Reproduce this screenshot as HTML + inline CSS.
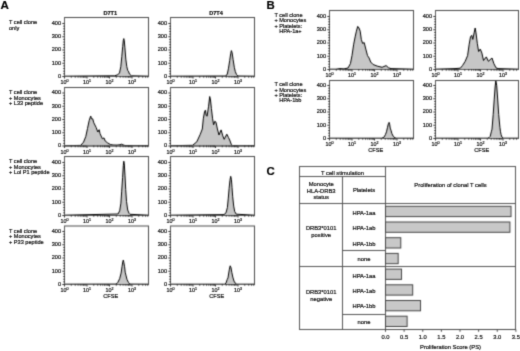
<!DOCTYPE html>
<html><head><meta charset="utf-8"><style>
html,body{margin:0;padding:0;background:#fff;width:520px;height:351px;overflow:hidden}
svg{display:block}
text{stroke:#111;stroke-width:0.2px}
</style></head><body>
<svg width="520" height="351" viewBox="0 0 520 351" font-family='"Liberation Sans", sans-serif' fill="#111" style="will-change:transform">
<defs><filter id="sf" filterUnits="userSpaceOnUse" x="0" y="0" width="520" height="351" color-interpolation-filters="sRGB"><feConvolveMatrix order="3" kernelMatrix="1 4 1 4 16 4 1 4 1" divisor="36" edgeMode="duplicate"/></filter><filter id="tf" filterUnits="userSpaceOnUse" x="0" y="0" width="520" height="351" color-interpolation-filters="sRGB"><feConvolveMatrix order="3" kernelMatrix="1 6 1 6 36 6 1 6 1" divisor="64" edgeMode="none"/></filter></defs>
<g filter="url(#sf)">
<rect width="520" height="351" fill="#fff"/>
<path d="M114.5 76.5L114.5 75.8L117.7 74.8L119.5 72.9L120.8 66.7L121.8 56.6L122.7 46.6L123.3 40.3L123.8 38.6L124.3 40.9L124.9 47.8L125.8 59.1L126.8 66.7L127.7 70.4L128.3 71.1L129.6 74.2L131.5 75.8L131.5 76.5Z" fill="#c6c6c6"/>
<path d="M64.5 76.2L114.5 75.8L117.7 74.8L119.5 72.9L120.8 66.7L121.8 56.6L122.7 46.6L123.3 40.3L123.8 38.6L124.3 40.9L124.9 47.8L125.8 59.1L126.8 66.7L127.7 70.4L128.3 71.1L129.6 74.2L131.5 75.8L148.5 76.2" fill="none" stroke="#000" stroke-width="1.0" stroke-linejoin="round"/>
<rect x="64.50" y="17.50" width="84.00" height="59.00" stroke="#4a4a4a" fill="none" stroke-width="1"/>
<path d="M64.50 17.50L64.50 76.50" stroke="#5a5a5a" stroke-width="1"/>
<path d="M64.50 76.50L148.50 76.50" stroke="#5a5a5a" stroke-width="1"/>
<path d="M62.30 76.50L64.50 76.50" stroke="#333" stroke-width="1"/>
<path d="M62.30 63.25L64.50 63.25" stroke="#333" stroke-width="1"/>
<path d="M62.30 50.00L64.50 50.00" stroke="#333" stroke-width="1"/>
<path d="M62.30 36.75L64.50 36.75" stroke="#333" stroke-width="1"/>
<path d="M62.30 23.50L64.50 23.50" stroke="#333" stroke-width="1"/>
<path d="M63.20 73.85L65.00 73.85" stroke="#222" stroke-width="0.9"/>
<path d="M63.20 71.20L65.00 71.20" stroke="#222" stroke-width="0.9"/>
<path d="M63.20 68.55L65.00 68.55" stroke="#222" stroke-width="0.9"/>
<path d="M63.20 65.90L65.00 65.90" stroke="#222" stroke-width="0.9"/>
<path d="M63.20 60.60L65.00 60.60" stroke="#222" stroke-width="0.9"/>
<path d="M63.20 57.95L65.00 57.95" stroke="#222" stroke-width="0.9"/>
<path d="M63.20 55.30L65.00 55.30" stroke="#222" stroke-width="0.9"/>
<path d="M63.20 52.65L65.00 52.65" stroke="#222" stroke-width="0.9"/>
<path d="M63.20 47.35L65.00 47.35" stroke="#222" stroke-width="0.9"/>
<path d="M63.20 44.70L65.00 44.70" stroke="#222" stroke-width="0.9"/>
<path d="M63.20 42.05L65.00 42.05" stroke="#222" stroke-width="0.9"/>
<path d="M63.20 39.40L65.00 39.40" stroke="#222" stroke-width="0.9"/>
<path d="M63.20 34.10L65.00 34.10" stroke="#222" stroke-width="0.9"/>
<path d="M63.20 31.45L65.00 31.45" stroke="#222" stroke-width="0.9"/>
<path d="M63.20 28.80L65.00 28.80" stroke="#222" stroke-width="0.9"/>
<path d="M63.20 26.15L65.00 26.15" stroke="#222" stroke-width="0.9"/>
<path d="M64.50 76.50L64.50 78.50" stroke="#333" stroke-width="1"/>
<path d="M71.27 76.00L71.27 77.80" stroke="#222" stroke-width="0.8"/>
<path d="M75.24 76.00L75.24 77.80" stroke="#222" stroke-width="0.8"/>
<path d="M78.05 76.00L78.05 77.80" stroke="#222" stroke-width="0.8"/>
<path d="M80.23 76.00L80.23 77.80" stroke="#222" stroke-width="0.8"/>
<path d="M82.01 76.00L82.01 77.80" stroke="#222" stroke-width="0.8"/>
<path d="M83.51 76.00L83.51 77.80" stroke="#222" stroke-width="0.8"/>
<path d="M84.82 76.00L84.82 77.80" stroke="#222" stroke-width="0.8"/>
<path d="M85.97 76.00L85.97 77.80" stroke="#222" stroke-width="0.8"/>
<path d="M87.00 76.50L87.00 78.50" stroke="#333" stroke-width="1"/>
<path d="M93.77 76.00L93.77 77.80" stroke="#222" stroke-width="0.8"/>
<path d="M97.74 76.00L97.74 77.80" stroke="#222" stroke-width="0.8"/>
<path d="M100.55 76.00L100.55 77.80" stroke="#222" stroke-width="0.8"/>
<path d="M102.73 76.00L102.73 77.80" stroke="#222" stroke-width="0.8"/>
<path d="M104.51 76.00L104.51 77.80" stroke="#222" stroke-width="0.8"/>
<path d="M106.01 76.00L106.01 77.80" stroke="#222" stroke-width="0.8"/>
<path d="M107.32 76.00L107.32 77.80" stroke="#222" stroke-width="0.8"/>
<path d="M108.47 76.00L108.47 77.80" stroke="#222" stroke-width="0.8"/>
<path d="M109.50 76.50L109.50 78.50" stroke="#333" stroke-width="1"/>
<path d="M116.27 76.00L116.27 77.80" stroke="#222" stroke-width="0.8"/>
<path d="M120.24 76.00L120.24 77.80" stroke="#222" stroke-width="0.8"/>
<path d="M123.05 76.00L123.05 77.80" stroke="#222" stroke-width="0.8"/>
<path d="M125.23 76.00L125.23 77.80" stroke="#222" stroke-width="0.8"/>
<path d="M127.01 76.00L127.01 77.80" stroke="#222" stroke-width="0.8"/>
<path d="M128.51 76.00L128.51 77.80" stroke="#222" stroke-width="0.8"/>
<path d="M129.82 76.00L129.82 77.80" stroke="#222" stroke-width="0.8"/>
<path d="M130.97 76.00L130.97 77.80" stroke="#222" stroke-width="0.8"/>
<path d="M132.00 76.50L132.00 78.50" stroke="#333" stroke-width="1"/>
<path d="M138.77 76.00L138.77 77.80" stroke="#222" stroke-width="0.8"/>
<path d="M142.74 76.00L142.74 77.80" stroke="#222" stroke-width="0.8"/>
<path d="M145.55 76.00L145.55 77.80" stroke="#222" stroke-width="0.8"/>
<path d="M147.73 76.00L147.73 77.80" stroke="#222" stroke-width="0.8"/>
<path d="M225.8 76.5L225.8 76.0L227.3 74.0L228.5 68.2L229.7 60.5L230.7 53.7L231.4 50.6L232.1 52.7L233.1 59.5L234.3 67.3L235.3 71.6L236.5 74.5L237.9 76.0L237.9 76.5Z" fill="#c6c6c6"/>
<path d="M170.5 76.2L225.8 76.0L227.3 74.0L228.5 68.2L229.7 60.5L230.7 53.7L231.4 50.6L232.1 52.7L233.1 59.5L234.3 67.3L235.3 71.6L236.5 74.5L237.9 76.0L254.5 76.2" fill="none" stroke="#000" stroke-width="1.0" stroke-linejoin="round"/>
<rect x="170.50" y="17.50" width="84.00" height="59.00" stroke="#4a4a4a" fill="none" stroke-width="1"/>
<path d="M170.50 17.50L170.50 76.50" stroke="#5a5a5a" stroke-width="1"/>
<path d="M170.50 76.50L254.50 76.50" stroke="#5a5a5a" stroke-width="1"/>
<path d="M168.30 76.50L170.50 76.50" stroke="#333" stroke-width="1"/>
<path d="M168.30 63.25L170.50 63.25" stroke="#333" stroke-width="1"/>
<path d="M168.30 50.00L170.50 50.00" stroke="#333" stroke-width="1"/>
<path d="M168.30 36.75L170.50 36.75" stroke="#333" stroke-width="1"/>
<path d="M168.30 23.50L170.50 23.50" stroke="#333" stroke-width="1"/>
<path d="M169.20 73.85L171.00 73.85" stroke="#222" stroke-width="0.9"/>
<path d="M169.20 71.20L171.00 71.20" stroke="#222" stroke-width="0.9"/>
<path d="M169.20 68.55L171.00 68.55" stroke="#222" stroke-width="0.9"/>
<path d="M169.20 65.90L171.00 65.90" stroke="#222" stroke-width="0.9"/>
<path d="M169.20 60.60L171.00 60.60" stroke="#222" stroke-width="0.9"/>
<path d="M169.20 57.95L171.00 57.95" stroke="#222" stroke-width="0.9"/>
<path d="M169.20 55.30L171.00 55.30" stroke="#222" stroke-width="0.9"/>
<path d="M169.20 52.65L171.00 52.65" stroke="#222" stroke-width="0.9"/>
<path d="M169.20 47.35L171.00 47.35" stroke="#222" stroke-width="0.9"/>
<path d="M169.20 44.70L171.00 44.70" stroke="#222" stroke-width="0.9"/>
<path d="M169.20 42.05L171.00 42.05" stroke="#222" stroke-width="0.9"/>
<path d="M169.20 39.40L171.00 39.40" stroke="#222" stroke-width="0.9"/>
<path d="M169.20 34.10L171.00 34.10" stroke="#222" stroke-width="0.9"/>
<path d="M169.20 31.45L171.00 31.45" stroke="#222" stroke-width="0.9"/>
<path d="M169.20 28.80L171.00 28.80" stroke="#222" stroke-width="0.9"/>
<path d="M169.20 26.15L171.00 26.15" stroke="#222" stroke-width="0.9"/>
<path d="M170.50 76.50L170.50 78.50" stroke="#333" stroke-width="1"/>
<path d="M177.27 76.00L177.27 77.80" stroke="#222" stroke-width="0.8"/>
<path d="M181.24 76.00L181.24 77.80" stroke="#222" stroke-width="0.8"/>
<path d="M184.05 76.00L184.05 77.80" stroke="#222" stroke-width="0.8"/>
<path d="M186.23 76.00L186.23 77.80" stroke="#222" stroke-width="0.8"/>
<path d="M188.01 76.00L188.01 77.80" stroke="#222" stroke-width="0.8"/>
<path d="M189.51 76.00L189.51 77.80" stroke="#222" stroke-width="0.8"/>
<path d="M190.82 76.00L190.82 77.80" stroke="#222" stroke-width="0.8"/>
<path d="M191.97 76.00L191.97 77.80" stroke="#222" stroke-width="0.8"/>
<path d="M193.00 76.50L193.00 78.50" stroke="#333" stroke-width="1"/>
<path d="M199.77 76.00L199.77 77.80" stroke="#222" stroke-width="0.8"/>
<path d="M203.74 76.00L203.74 77.80" stroke="#222" stroke-width="0.8"/>
<path d="M206.55 76.00L206.55 77.80" stroke="#222" stroke-width="0.8"/>
<path d="M208.73 76.00L208.73 77.80" stroke="#222" stroke-width="0.8"/>
<path d="M210.51 76.00L210.51 77.80" stroke="#222" stroke-width="0.8"/>
<path d="M212.01 76.00L212.01 77.80" stroke="#222" stroke-width="0.8"/>
<path d="M213.32 76.00L213.32 77.80" stroke="#222" stroke-width="0.8"/>
<path d="M214.47 76.00L214.47 77.80" stroke="#222" stroke-width="0.8"/>
<path d="M215.50 76.50L215.50 78.50" stroke="#333" stroke-width="1"/>
<path d="M222.27 76.00L222.27 77.80" stroke="#222" stroke-width="0.8"/>
<path d="M226.24 76.00L226.24 77.80" stroke="#222" stroke-width="0.8"/>
<path d="M229.05 76.00L229.05 77.80" stroke="#222" stroke-width="0.8"/>
<path d="M231.23 76.00L231.23 77.80" stroke="#222" stroke-width="0.8"/>
<path d="M233.01 76.00L233.01 77.80" stroke="#222" stroke-width="0.8"/>
<path d="M234.51 76.00L234.51 77.80" stroke="#222" stroke-width="0.8"/>
<path d="M235.82 76.00L235.82 77.80" stroke="#222" stroke-width="0.8"/>
<path d="M236.97 76.00L236.97 77.80" stroke="#222" stroke-width="0.8"/>
<path d="M238.00 76.50L238.00 78.50" stroke="#333" stroke-width="1"/>
<path d="M244.77 76.00L244.77 77.80" stroke="#222" stroke-width="0.8"/>
<path d="M248.74 76.00L248.74 77.80" stroke="#222" stroke-width="0.8"/>
<path d="M251.55 76.00L251.55 77.80" stroke="#222" stroke-width="0.8"/>
<path d="M253.73 76.00L253.73 77.80" stroke="#222" stroke-width="0.8"/>
<path d="M80.7 146.0L80.7 145.4L83.5 142.2L85.8 136.5L87.5 128.5L89.2 120.5L90.7 116.0L91.5 118.8L92.7 118.8L93.8 122.8L96.1 127.4L97.8 132.0L99.2 129.7L100.0 133.6L102.4 138.8L104.0 137.9L105.2 141.0L107.5 142.8L110.3 144.5L113.0 145.0L117.0 145.1L120.0 144.8L121.5 144.2L123.0 144.9L125.0 145.5L125.0 146.0Z" fill="#c6c6c6"/>
<path d="M64.5 145.7L80.7 145.4L83.5 142.2L85.8 136.5L87.5 128.5L89.2 120.5L90.7 116.0L91.5 118.8L92.7 118.8L93.8 122.8L96.1 127.4L97.8 132.0L99.2 129.7L100.0 133.6L102.4 138.8L104.0 137.9L105.2 141.0L107.5 142.8L110.3 144.5L113.0 145.0L117.0 145.1L120.0 144.8L121.5 144.2L123.0 144.9L125.0 145.5L148.5 145.7" fill="none" stroke="#000" stroke-width="1.0" stroke-linejoin="round"/>
<rect x="64.50" y="87.50" width="84.00" height="58.50" stroke="#4a4a4a" fill="none" stroke-width="1"/>
<path d="M64.50 87.50L64.50 146.00" stroke="#5a5a5a" stroke-width="1"/>
<path d="M64.50 146.00L148.50 146.00" stroke="#5a5a5a" stroke-width="1"/>
<path d="M62.30 146.00L64.50 146.00" stroke="#333" stroke-width="1"/>
<path d="M62.30 132.75L64.50 132.75" stroke="#333" stroke-width="1"/>
<path d="M62.30 119.50L64.50 119.50" stroke="#333" stroke-width="1"/>
<path d="M62.30 106.25L64.50 106.25" stroke="#333" stroke-width="1"/>
<path d="M62.30 93.00L64.50 93.00" stroke="#333" stroke-width="1"/>
<path d="M63.20 143.35L65.00 143.35" stroke="#222" stroke-width="0.9"/>
<path d="M63.20 140.70L65.00 140.70" stroke="#222" stroke-width="0.9"/>
<path d="M63.20 138.05L65.00 138.05" stroke="#222" stroke-width="0.9"/>
<path d="M63.20 135.40L65.00 135.40" stroke="#222" stroke-width="0.9"/>
<path d="M63.20 130.10L65.00 130.10" stroke="#222" stroke-width="0.9"/>
<path d="M63.20 127.45L65.00 127.45" stroke="#222" stroke-width="0.9"/>
<path d="M63.20 124.80L65.00 124.80" stroke="#222" stroke-width="0.9"/>
<path d="M63.20 122.15L65.00 122.15" stroke="#222" stroke-width="0.9"/>
<path d="M63.20 116.85L65.00 116.85" stroke="#222" stroke-width="0.9"/>
<path d="M63.20 114.20L65.00 114.20" stroke="#222" stroke-width="0.9"/>
<path d="M63.20 111.55L65.00 111.55" stroke="#222" stroke-width="0.9"/>
<path d="M63.20 108.90L65.00 108.90" stroke="#222" stroke-width="0.9"/>
<path d="M63.20 103.60L65.00 103.60" stroke="#222" stroke-width="0.9"/>
<path d="M63.20 100.95L65.00 100.95" stroke="#222" stroke-width="0.9"/>
<path d="M63.20 98.30L65.00 98.30" stroke="#222" stroke-width="0.9"/>
<path d="M63.20 95.65L65.00 95.65" stroke="#222" stroke-width="0.9"/>
<path d="M64.50 146.00L64.50 148.00" stroke="#333" stroke-width="1"/>
<path d="M71.27 145.50L71.27 147.30" stroke="#222" stroke-width="0.8"/>
<path d="M75.24 145.50L75.24 147.30" stroke="#222" stroke-width="0.8"/>
<path d="M78.05 145.50L78.05 147.30" stroke="#222" stroke-width="0.8"/>
<path d="M80.23 145.50L80.23 147.30" stroke="#222" stroke-width="0.8"/>
<path d="M82.01 145.50L82.01 147.30" stroke="#222" stroke-width="0.8"/>
<path d="M83.51 145.50L83.51 147.30" stroke="#222" stroke-width="0.8"/>
<path d="M84.82 145.50L84.82 147.30" stroke="#222" stroke-width="0.8"/>
<path d="M85.97 145.50L85.97 147.30" stroke="#222" stroke-width="0.8"/>
<path d="M87.00 146.00L87.00 148.00" stroke="#333" stroke-width="1"/>
<path d="M93.77 145.50L93.77 147.30" stroke="#222" stroke-width="0.8"/>
<path d="M97.74 145.50L97.74 147.30" stroke="#222" stroke-width="0.8"/>
<path d="M100.55 145.50L100.55 147.30" stroke="#222" stroke-width="0.8"/>
<path d="M102.73 145.50L102.73 147.30" stroke="#222" stroke-width="0.8"/>
<path d="M104.51 145.50L104.51 147.30" stroke="#222" stroke-width="0.8"/>
<path d="M106.01 145.50L106.01 147.30" stroke="#222" stroke-width="0.8"/>
<path d="M107.32 145.50L107.32 147.30" stroke="#222" stroke-width="0.8"/>
<path d="M108.47 145.50L108.47 147.30" stroke="#222" stroke-width="0.8"/>
<path d="M109.50 146.00L109.50 148.00" stroke="#333" stroke-width="1"/>
<path d="M116.27 145.50L116.27 147.30" stroke="#222" stroke-width="0.8"/>
<path d="M120.24 145.50L120.24 147.30" stroke="#222" stroke-width="0.8"/>
<path d="M123.05 145.50L123.05 147.30" stroke="#222" stroke-width="0.8"/>
<path d="M125.23 145.50L125.23 147.30" stroke="#222" stroke-width="0.8"/>
<path d="M127.01 145.50L127.01 147.30" stroke="#222" stroke-width="0.8"/>
<path d="M128.51 145.50L128.51 147.30" stroke="#222" stroke-width="0.8"/>
<path d="M129.82 145.50L129.82 147.30" stroke="#222" stroke-width="0.8"/>
<path d="M130.97 145.50L130.97 147.30" stroke="#222" stroke-width="0.8"/>
<path d="M132.00 146.00L132.00 148.00" stroke="#333" stroke-width="1"/>
<path d="M138.77 145.50L138.77 147.30" stroke="#222" stroke-width="0.8"/>
<path d="M142.74 145.50L142.74 147.30" stroke="#222" stroke-width="0.8"/>
<path d="M145.55 145.50L145.55 147.30" stroke="#222" stroke-width="0.8"/>
<path d="M147.73 145.50L147.73 147.30" stroke="#222" stroke-width="0.8"/>
<path d="M192.6 146.0L192.6 145.3L196.8 141.8L200.3 134.2L202.3 129.0L203.3 118.8L204.5 111.9L205.4 110.2L206.2 115.4L207.1 116.2L208.5 106.8L209.7 96.5L210.5 100.0L211.4 108.5L212.6 118.8L213.6 124.8L214.8 121.3L216.0 122.2L217.4 129.0L219.0 135.0L221.1 129.9L222.8 135.9L224.2 139.3L226.8 134.2L228.5 137.6L229.7 140.0L231.4 144.7L232.5 146.0L232.5 146.0Z" fill="#c6c6c6"/>
<path d="M170.5 145.7L192.6 145.3L196.8 141.8L200.3 134.2L202.3 129.0L203.3 118.8L204.5 111.9L205.4 110.2L206.2 115.4L207.1 116.2L208.5 106.8L209.7 96.5L210.5 100.0L211.4 108.5L212.6 118.8L213.6 124.8L214.8 121.3L216.0 122.2L217.4 129.0L219.0 135.0L221.1 129.9L222.8 135.9L224.2 139.3L226.8 134.2L228.5 137.6L229.7 140.0L231.4 144.7L232.5 145.7L254.5 145.7" fill="none" stroke="#000" stroke-width="1.0" stroke-linejoin="round"/>
<rect x="170.50" y="87.50" width="84.00" height="58.50" stroke="#4a4a4a" fill="none" stroke-width="1"/>
<path d="M170.50 87.50L170.50 146.00" stroke="#5a5a5a" stroke-width="1"/>
<path d="M170.50 146.00L254.50 146.00" stroke="#5a5a5a" stroke-width="1"/>
<path d="M168.30 146.00L170.50 146.00" stroke="#333" stroke-width="1"/>
<path d="M168.30 132.75L170.50 132.75" stroke="#333" stroke-width="1"/>
<path d="M168.30 119.50L170.50 119.50" stroke="#333" stroke-width="1"/>
<path d="M168.30 106.25L170.50 106.25" stroke="#333" stroke-width="1"/>
<path d="M168.30 93.00L170.50 93.00" stroke="#333" stroke-width="1"/>
<path d="M169.20 143.35L171.00 143.35" stroke="#222" stroke-width="0.9"/>
<path d="M169.20 140.70L171.00 140.70" stroke="#222" stroke-width="0.9"/>
<path d="M169.20 138.05L171.00 138.05" stroke="#222" stroke-width="0.9"/>
<path d="M169.20 135.40L171.00 135.40" stroke="#222" stroke-width="0.9"/>
<path d="M169.20 130.10L171.00 130.10" stroke="#222" stroke-width="0.9"/>
<path d="M169.20 127.45L171.00 127.45" stroke="#222" stroke-width="0.9"/>
<path d="M169.20 124.80L171.00 124.80" stroke="#222" stroke-width="0.9"/>
<path d="M169.20 122.15L171.00 122.15" stroke="#222" stroke-width="0.9"/>
<path d="M169.20 116.85L171.00 116.85" stroke="#222" stroke-width="0.9"/>
<path d="M169.20 114.20L171.00 114.20" stroke="#222" stroke-width="0.9"/>
<path d="M169.20 111.55L171.00 111.55" stroke="#222" stroke-width="0.9"/>
<path d="M169.20 108.90L171.00 108.90" stroke="#222" stroke-width="0.9"/>
<path d="M169.20 103.60L171.00 103.60" stroke="#222" stroke-width="0.9"/>
<path d="M169.20 100.95L171.00 100.95" stroke="#222" stroke-width="0.9"/>
<path d="M169.20 98.30L171.00 98.30" stroke="#222" stroke-width="0.9"/>
<path d="M169.20 95.65L171.00 95.65" stroke="#222" stroke-width="0.9"/>
<path d="M170.50 146.00L170.50 148.00" stroke="#333" stroke-width="1"/>
<path d="M177.27 145.50L177.27 147.30" stroke="#222" stroke-width="0.8"/>
<path d="M181.24 145.50L181.24 147.30" stroke="#222" stroke-width="0.8"/>
<path d="M184.05 145.50L184.05 147.30" stroke="#222" stroke-width="0.8"/>
<path d="M186.23 145.50L186.23 147.30" stroke="#222" stroke-width="0.8"/>
<path d="M188.01 145.50L188.01 147.30" stroke="#222" stroke-width="0.8"/>
<path d="M189.51 145.50L189.51 147.30" stroke="#222" stroke-width="0.8"/>
<path d="M190.82 145.50L190.82 147.30" stroke="#222" stroke-width="0.8"/>
<path d="M191.97 145.50L191.97 147.30" stroke="#222" stroke-width="0.8"/>
<path d="M193.00 146.00L193.00 148.00" stroke="#333" stroke-width="1"/>
<path d="M199.77 145.50L199.77 147.30" stroke="#222" stroke-width="0.8"/>
<path d="M203.74 145.50L203.74 147.30" stroke="#222" stroke-width="0.8"/>
<path d="M206.55 145.50L206.55 147.30" stroke="#222" stroke-width="0.8"/>
<path d="M208.73 145.50L208.73 147.30" stroke="#222" stroke-width="0.8"/>
<path d="M210.51 145.50L210.51 147.30" stroke="#222" stroke-width="0.8"/>
<path d="M212.01 145.50L212.01 147.30" stroke="#222" stroke-width="0.8"/>
<path d="M213.32 145.50L213.32 147.30" stroke="#222" stroke-width="0.8"/>
<path d="M214.47 145.50L214.47 147.30" stroke="#222" stroke-width="0.8"/>
<path d="M215.50 146.00L215.50 148.00" stroke="#333" stroke-width="1"/>
<path d="M222.27 145.50L222.27 147.30" stroke="#222" stroke-width="0.8"/>
<path d="M226.24 145.50L226.24 147.30" stroke="#222" stroke-width="0.8"/>
<path d="M229.05 145.50L229.05 147.30" stroke="#222" stroke-width="0.8"/>
<path d="M231.23 145.50L231.23 147.30" stroke="#222" stroke-width="0.8"/>
<path d="M233.01 145.50L233.01 147.30" stroke="#222" stroke-width="0.8"/>
<path d="M234.51 145.50L234.51 147.30" stroke="#222" stroke-width="0.8"/>
<path d="M235.82 145.50L235.82 147.30" stroke="#222" stroke-width="0.8"/>
<path d="M236.97 145.50L236.97 147.30" stroke="#222" stroke-width="0.8"/>
<path d="M238.00 146.00L238.00 148.00" stroke="#333" stroke-width="1"/>
<path d="M244.77 145.50L244.77 147.30" stroke="#222" stroke-width="0.8"/>
<path d="M248.74 145.50L248.74 147.30" stroke="#222" stroke-width="0.8"/>
<path d="M251.55 145.50L251.55 147.30" stroke="#222" stroke-width="0.8"/>
<path d="M253.73 145.50L253.73 147.30" stroke="#222" stroke-width="0.8"/>
<path d="M118.0 215.5L118.0 214.0L119.7 210.8L120.9 203.2L121.7 191.2L122.6 177.5L123.3 165.5L123.8 161.2L124.3 163.8L125.0 175.8L125.7 189.5L126.5 201.4L127.7 210.0L129.1 213.4L130.0 214.3L130.0 215.5Z" fill="#c6c6c6"/>
<path d="M64.5 215.2L118.0 214.0L119.7 210.8L120.9 203.2L121.7 191.2L122.6 177.5L123.3 165.5L123.8 161.2L124.3 163.8L125.0 175.8L125.7 189.5L126.5 201.4L127.7 210.0L129.1 213.4L130.0 214.3L148.5 215.2" fill="none" stroke="#000" stroke-width="1.0" stroke-linejoin="round"/>
<rect x="64.50" y="156.50" width="84.00" height="59.00" stroke="#4a4a4a" fill="none" stroke-width="1"/>
<path d="M64.50 156.50L64.50 215.50" stroke="#5a5a5a" stroke-width="1"/>
<path d="M64.50 215.50L148.50 215.50" stroke="#5a5a5a" stroke-width="1"/>
<path d="M62.30 215.50L64.50 215.50" stroke="#333" stroke-width="1"/>
<path d="M62.30 202.25L64.50 202.25" stroke="#333" stroke-width="1"/>
<path d="M62.30 189.00L64.50 189.00" stroke="#333" stroke-width="1"/>
<path d="M62.30 175.75L64.50 175.75" stroke="#333" stroke-width="1"/>
<path d="M62.30 162.50L64.50 162.50" stroke="#333" stroke-width="1"/>
<path d="M63.20 212.85L65.00 212.85" stroke="#222" stroke-width="0.9"/>
<path d="M63.20 210.20L65.00 210.20" stroke="#222" stroke-width="0.9"/>
<path d="M63.20 207.55L65.00 207.55" stroke="#222" stroke-width="0.9"/>
<path d="M63.20 204.90L65.00 204.90" stroke="#222" stroke-width="0.9"/>
<path d="M63.20 199.60L65.00 199.60" stroke="#222" stroke-width="0.9"/>
<path d="M63.20 196.95L65.00 196.95" stroke="#222" stroke-width="0.9"/>
<path d="M63.20 194.30L65.00 194.30" stroke="#222" stroke-width="0.9"/>
<path d="M63.20 191.65L65.00 191.65" stroke="#222" stroke-width="0.9"/>
<path d="M63.20 186.35L65.00 186.35" stroke="#222" stroke-width="0.9"/>
<path d="M63.20 183.70L65.00 183.70" stroke="#222" stroke-width="0.9"/>
<path d="M63.20 181.05L65.00 181.05" stroke="#222" stroke-width="0.9"/>
<path d="M63.20 178.40L65.00 178.40" stroke="#222" stroke-width="0.9"/>
<path d="M63.20 173.10L65.00 173.10" stroke="#222" stroke-width="0.9"/>
<path d="M63.20 170.45L65.00 170.45" stroke="#222" stroke-width="0.9"/>
<path d="M63.20 167.80L65.00 167.80" stroke="#222" stroke-width="0.9"/>
<path d="M63.20 165.15L65.00 165.15" stroke="#222" stroke-width="0.9"/>
<path d="M64.50 215.50L64.50 217.50" stroke="#333" stroke-width="1"/>
<path d="M71.27 215.00L71.27 216.80" stroke="#222" stroke-width="0.8"/>
<path d="M75.24 215.00L75.24 216.80" stroke="#222" stroke-width="0.8"/>
<path d="M78.05 215.00L78.05 216.80" stroke="#222" stroke-width="0.8"/>
<path d="M80.23 215.00L80.23 216.80" stroke="#222" stroke-width="0.8"/>
<path d="M82.01 215.00L82.01 216.80" stroke="#222" stroke-width="0.8"/>
<path d="M83.51 215.00L83.51 216.80" stroke="#222" stroke-width="0.8"/>
<path d="M84.82 215.00L84.82 216.80" stroke="#222" stroke-width="0.8"/>
<path d="M85.97 215.00L85.97 216.80" stroke="#222" stroke-width="0.8"/>
<path d="M87.00 215.50L87.00 217.50" stroke="#333" stroke-width="1"/>
<path d="M93.77 215.00L93.77 216.80" stroke="#222" stroke-width="0.8"/>
<path d="M97.74 215.00L97.74 216.80" stroke="#222" stroke-width="0.8"/>
<path d="M100.55 215.00L100.55 216.80" stroke="#222" stroke-width="0.8"/>
<path d="M102.73 215.00L102.73 216.80" stroke="#222" stroke-width="0.8"/>
<path d="M104.51 215.00L104.51 216.80" stroke="#222" stroke-width="0.8"/>
<path d="M106.01 215.00L106.01 216.80" stroke="#222" stroke-width="0.8"/>
<path d="M107.32 215.00L107.32 216.80" stroke="#222" stroke-width="0.8"/>
<path d="M108.47 215.00L108.47 216.80" stroke="#222" stroke-width="0.8"/>
<path d="M109.50 215.50L109.50 217.50" stroke="#333" stroke-width="1"/>
<path d="M116.27 215.00L116.27 216.80" stroke="#222" stroke-width="0.8"/>
<path d="M120.24 215.00L120.24 216.80" stroke="#222" stroke-width="0.8"/>
<path d="M123.05 215.00L123.05 216.80" stroke="#222" stroke-width="0.8"/>
<path d="M125.23 215.00L125.23 216.80" stroke="#222" stroke-width="0.8"/>
<path d="M127.01 215.00L127.01 216.80" stroke="#222" stroke-width="0.8"/>
<path d="M128.51 215.00L128.51 216.80" stroke="#222" stroke-width="0.8"/>
<path d="M129.82 215.00L129.82 216.80" stroke="#222" stroke-width="0.8"/>
<path d="M130.97 215.00L130.97 216.80" stroke="#222" stroke-width="0.8"/>
<path d="M132.00 215.50L132.00 217.50" stroke="#333" stroke-width="1"/>
<path d="M138.77 215.00L138.77 216.80" stroke="#222" stroke-width="0.8"/>
<path d="M142.74 215.00L142.74 216.80" stroke="#222" stroke-width="0.8"/>
<path d="M145.55 215.00L145.55 216.80" stroke="#222" stroke-width="0.8"/>
<path d="M147.73 215.00L147.73 216.80" stroke="#222" stroke-width="0.8"/>
<path d="M224.0 215.5L224.0 214.6L226.0 212.8L227.4 207.5L228.3 198.1L229.1 188.7L229.9 180.7L230.7 176.3L231.4 179.4L232.0 187.4L232.7 196.8L233.7 206.1L234.7 211.5L236.3 214.2L236.3 215.5Z" fill="#c6c6c6"/>
<path d="M170.5 215.2L224.0 214.6L226.0 212.8L227.4 207.5L228.3 198.1L229.1 188.7L229.9 180.7L230.7 176.3L231.4 179.4L232.0 187.4L232.7 196.8L233.7 206.1L234.7 211.5L236.3 214.2L254.5 215.2" fill="none" stroke="#000" stroke-width="1.0" stroke-linejoin="round"/>
<rect x="170.50" y="156.50" width="84.00" height="59.00" stroke="#4a4a4a" fill="none" stroke-width="1"/>
<path d="M170.50 156.50L170.50 215.50" stroke="#5a5a5a" stroke-width="1"/>
<path d="M170.50 215.50L254.50 215.50" stroke="#5a5a5a" stroke-width="1"/>
<path d="M168.30 215.50L170.50 215.50" stroke="#333" stroke-width="1"/>
<path d="M168.30 202.25L170.50 202.25" stroke="#333" stroke-width="1"/>
<path d="M168.30 189.00L170.50 189.00" stroke="#333" stroke-width="1"/>
<path d="M168.30 175.75L170.50 175.75" stroke="#333" stroke-width="1"/>
<path d="M168.30 162.50L170.50 162.50" stroke="#333" stroke-width="1"/>
<path d="M169.20 212.85L171.00 212.85" stroke="#222" stroke-width="0.9"/>
<path d="M169.20 210.20L171.00 210.20" stroke="#222" stroke-width="0.9"/>
<path d="M169.20 207.55L171.00 207.55" stroke="#222" stroke-width="0.9"/>
<path d="M169.20 204.90L171.00 204.90" stroke="#222" stroke-width="0.9"/>
<path d="M169.20 199.60L171.00 199.60" stroke="#222" stroke-width="0.9"/>
<path d="M169.20 196.95L171.00 196.95" stroke="#222" stroke-width="0.9"/>
<path d="M169.20 194.30L171.00 194.30" stroke="#222" stroke-width="0.9"/>
<path d="M169.20 191.65L171.00 191.65" stroke="#222" stroke-width="0.9"/>
<path d="M169.20 186.35L171.00 186.35" stroke="#222" stroke-width="0.9"/>
<path d="M169.20 183.70L171.00 183.70" stroke="#222" stroke-width="0.9"/>
<path d="M169.20 181.05L171.00 181.05" stroke="#222" stroke-width="0.9"/>
<path d="M169.20 178.40L171.00 178.40" stroke="#222" stroke-width="0.9"/>
<path d="M169.20 173.10L171.00 173.10" stroke="#222" stroke-width="0.9"/>
<path d="M169.20 170.45L171.00 170.45" stroke="#222" stroke-width="0.9"/>
<path d="M169.20 167.80L171.00 167.80" stroke="#222" stroke-width="0.9"/>
<path d="M169.20 165.15L171.00 165.15" stroke="#222" stroke-width="0.9"/>
<path d="M170.50 215.50L170.50 217.50" stroke="#333" stroke-width="1"/>
<path d="M177.27 215.00L177.27 216.80" stroke="#222" stroke-width="0.8"/>
<path d="M181.24 215.00L181.24 216.80" stroke="#222" stroke-width="0.8"/>
<path d="M184.05 215.00L184.05 216.80" stroke="#222" stroke-width="0.8"/>
<path d="M186.23 215.00L186.23 216.80" stroke="#222" stroke-width="0.8"/>
<path d="M188.01 215.00L188.01 216.80" stroke="#222" stroke-width="0.8"/>
<path d="M189.51 215.00L189.51 216.80" stroke="#222" stroke-width="0.8"/>
<path d="M190.82 215.00L190.82 216.80" stroke="#222" stroke-width="0.8"/>
<path d="M191.97 215.00L191.97 216.80" stroke="#222" stroke-width="0.8"/>
<path d="M193.00 215.50L193.00 217.50" stroke="#333" stroke-width="1"/>
<path d="M199.77 215.00L199.77 216.80" stroke="#222" stroke-width="0.8"/>
<path d="M203.74 215.00L203.74 216.80" stroke="#222" stroke-width="0.8"/>
<path d="M206.55 215.00L206.55 216.80" stroke="#222" stroke-width="0.8"/>
<path d="M208.73 215.00L208.73 216.80" stroke="#222" stroke-width="0.8"/>
<path d="M210.51 215.00L210.51 216.80" stroke="#222" stroke-width="0.8"/>
<path d="M212.01 215.00L212.01 216.80" stroke="#222" stroke-width="0.8"/>
<path d="M213.32 215.00L213.32 216.80" stroke="#222" stroke-width="0.8"/>
<path d="M214.47 215.00L214.47 216.80" stroke="#222" stroke-width="0.8"/>
<path d="M215.50 215.50L215.50 217.50" stroke="#333" stroke-width="1"/>
<path d="M222.27 215.00L222.27 216.80" stroke="#222" stroke-width="0.8"/>
<path d="M226.24 215.00L226.24 216.80" stroke="#222" stroke-width="0.8"/>
<path d="M229.05 215.00L229.05 216.80" stroke="#222" stroke-width="0.8"/>
<path d="M231.23 215.00L231.23 216.80" stroke="#222" stroke-width="0.8"/>
<path d="M233.01 215.00L233.01 216.80" stroke="#222" stroke-width="0.8"/>
<path d="M234.51 215.00L234.51 216.80" stroke="#222" stroke-width="0.8"/>
<path d="M235.82 215.00L235.82 216.80" stroke="#222" stroke-width="0.8"/>
<path d="M236.97 215.00L236.97 216.80" stroke="#222" stroke-width="0.8"/>
<path d="M238.00 215.50L238.00 217.50" stroke="#333" stroke-width="1"/>
<path d="M244.77 215.00L244.77 216.80" stroke="#222" stroke-width="0.8"/>
<path d="M248.74 215.00L248.74 216.80" stroke="#222" stroke-width="0.8"/>
<path d="M251.55 215.00L251.55 216.80" stroke="#222" stroke-width="0.8"/>
<path d="M253.73 215.00L253.73 216.80" stroke="#222" stroke-width="0.8"/>
<path d="M116.1 284.5L116.1 284.1L117.9 282.3L119.7 278.6L121.1 273.1L122.0 266.8L122.8 261.7L123.3 260.1L123.9 262.7L124.6 266.8L125.2 272.2L126.1 275.9L127.0 279.5L128.4 282.3L129.8 284.1L129.8 284.5Z" fill="#c6c6c6"/>
<path d="M64.5 284.2L116.1 284.1L117.9 282.3L119.7 278.6L121.1 273.1L122.0 266.8L122.8 261.7L123.3 260.1L123.9 262.7L124.6 266.8L125.2 272.2L126.1 275.9L127.0 279.5L128.4 282.3L129.8 284.1L148.5 284.2" fill="none" stroke="#000" stroke-width="1.0" stroke-linejoin="round"/>
<rect x="64.50" y="226.00" width="84.00" height="58.50" stroke="#4a4a4a" fill="none" stroke-width="1"/>
<path d="M64.50 226.00L64.50 284.50" stroke="#5a5a5a" stroke-width="1"/>
<path d="M64.50 284.50L148.50 284.50" stroke="#5a5a5a" stroke-width="1"/>
<path d="M62.30 284.50L64.50 284.50" stroke="#333" stroke-width="1"/>
<path d="M62.30 271.25L64.50 271.25" stroke="#333" stroke-width="1"/>
<path d="M62.30 258.00L64.50 258.00" stroke="#333" stroke-width="1"/>
<path d="M62.30 244.75L64.50 244.75" stroke="#333" stroke-width="1"/>
<path d="M62.30 231.50L64.50 231.50" stroke="#333" stroke-width="1"/>
<path d="M63.20 281.85L65.00 281.85" stroke="#222" stroke-width="0.9"/>
<path d="M63.20 279.20L65.00 279.20" stroke="#222" stroke-width="0.9"/>
<path d="M63.20 276.55L65.00 276.55" stroke="#222" stroke-width="0.9"/>
<path d="M63.20 273.90L65.00 273.90" stroke="#222" stroke-width="0.9"/>
<path d="M63.20 268.60L65.00 268.60" stroke="#222" stroke-width="0.9"/>
<path d="M63.20 265.95L65.00 265.95" stroke="#222" stroke-width="0.9"/>
<path d="M63.20 263.30L65.00 263.30" stroke="#222" stroke-width="0.9"/>
<path d="M63.20 260.65L65.00 260.65" stroke="#222" stroke-width="0.9"/>
<path d="M63.20 255.35L65.00 255.35" stroke="#222" stroke-width="0.9"/>
<path d="M63.20 252.70L65.00 252.70" stroke="#222" stroke-width="0.9"/>
<path d="M63.20 250.05L65.00 250.05" stroke="#222" stroke-width="0.9"/>
<path d="M63.20 247.40L65.00 247.40" stroke="#222" stroke-width="0.9"/>
<path d="M63.20 242.10L65.00 242.10" stroke="#222" stroke-width="0.9"/>
<path d="M63.20 239.45L65.00 239.45" stroke="#222" stroke-width="0.9"/>
<path d="M63.20 236.80L65.00 236.80" stroke="#222" stroke-width="0.9"/>
<path d="M63.20 234.15L65.00 234.15" stroke="#222" stroke-width="0.9"/>
<path d="M64.50 284.50L64.50 286.50" stroke="#333" stroke-width="1"/>
<path d="M71.27 284.00L71.27 285.80" stroke="#222" stroke-width="0.8"/>
<path d="M75.24 284.00L75.24 285.80" stroke="#222" stroke-width="0.8"/>
<path d="M78.05 284.00L78.05 285.80" stroke="#222" stroke-width="0.8"/>
<path d="M80.23 284.00L80.23 285.80" stroke="#222" stroke-width="0.8"/>
<path d="M82.01 284.00L82.01 285.80" stroke="#222" stroke-width="0.8"/>
<path d="M83.51 284.00L83.51 285.80" stroke="#222" stroke-width="0.8"/>
<path d="M84.82 284.00L84.82 285.80" stroke="#222" stroke-width="0.8"/>
<path d="M85.97 284.00L85.97 285.80" stroke="#222" stroke-width="0.8"/>
<path d="M87.00 284.50L87.00 286.50" stroke="#333" stroke-width="1"/>
<path d="M93.77 284.00L93.77 285.80" stroke="#222" stroke-width="0.8"/>
<path d="M97.74 284.00L97.74 285.80" stroke="#222" stroke-width="0.8"/>
<path d="M100.55 284.00L100.55 285.80" stroke="#222" stroke-width="0.8"/>
<path d="M102.73 284.00L102.73 285.80" stroke="#222" stroke-width="0.8"/>
<path d="M104.51 284.00L104.51 285.80" stroke="#222" stroke-width="0.8"/>
<path d="M106.01 284.00L106.01 285.80" stroke="#222" stroke-width="0.8"/>
<path d="M107.32 284.00L107.32 285.80" stroke="#222" stroke-width="0.8"/>
<path d="M108.47 284.00L108.47 285.80" stroke="#222" stroke-width="0.8"/>
<path d="M109.50 284.50L109.50 286.50" stroke="#333" stroke-width="1"/>
<path d="M116.27 284.00L116.27 285.80" stroke="#222" stroke-width="0.8"/>
<path d="M120.24 284.00L120.24 285.80" stroke="#222" stroke-width="0.8"/>
<path d="M123.05 284.00L123.05 285.80" stroke="#222" stroke-width="0.8"/>
<path d="M125.23 284.00L125.23 285.80" stroke="#222" stroke-width="0.8"/>
<path d="M127.01 284.00L127.01 285.80" stroke="#222" stroke-width="0.8"/>
<path d="M128.51 284.00L128.51 285.80" stroke="#222" stroke-width="0.8"/>
<path d="M129.82 284.00L129.82 285.80" stroke="#222" stroke-width="0.8"/>
<path d="M130.97 284.00L130.97 285.80" stroke="#222" stroke-width="0.8"/>
<path d="M132.00 284.50L132.00 286.50" stroke="#333" stroke-width="1"/>
<path d="M138.77 284.00L138.77 285.80" stroke="#222" stroke-width="0.8"/>
<path d="M142.74 284.00L142.74 285.80" stroke="#222" stroke-width="0.8"/>
<path d="M145.55 284.00L145.55 285.80" stroke="#222" stroke-width="0.8"/>
<path d="M147.73 284.00L147.73 285.80" stroke="#222" stroke-width="0.8"/>
<path d="M224.8 284.5L224.8 284.3L226.0 283.1L227.2 279.5L228.0 277.9L228.6 274.0L229.4 269.2L230.2 265.8L231.0 267.6L231.8 272.4L232.8 277.1L234.0 281.1L235.2 283.1L236.7 284.3L236.7 284.5Z" fill="#c6c6c6"/>
<path d="M170.5 284.2L224.8 284.2L226.0 283.1L227.2 279.5L228.0 277.9L228.6 274.0L229.4 269.2L230.2 265.8L231.0 267.6L231.8 272.4L232.8 277.1L234.0 281.1L235.2 283.1L236.7 284.2L254.5 284.2" fill="none" stroke="#000" stroke-width="1.0" stroke-linejoin="round"/>
<rect x="170.50" y="226.00" width="84.00" height="58.50" stroke="#4a4a4a" fill="none" stroke-width="1"/>
<path d="M170.50 226.00L170.50 284.50" stroke="#5a5a5a" stroke-width="1"/>
<path d="M170.50 284.50L254.50 284.50" stroke="#5a5a5a" stroke-width="1"/>
<path d="M168.30 284.50L170.50 284.50" stroke="#333" stroke-width="1"/>
<path d="M168.30 271.25L170.50 271.25" stroke="#333" stroke-width="1"/>
<path d="M168.30 258.00L170.50 258.00" stroke="#333" stroke-width="1"/>
<path d="M168.30 244.75L170.50 244.75" stroke="#333" stroke-width="1"/>
<path d="M168.30 231.50L170.50 231.50" stroke="#333" stroke-width="1"/>
<path d="M169.20 281.85L171.00 281.85" stroke="#222" stroke-width="0.9"/>
<path d="M169.20 279.20L171.00 279.20" stroke="#222" stroke-width="0.9"/>
<path d="M169.20 276.55L171.00 276.55" stroke="#222" stroke-width="0.9"/>
<path d="M169.20 273.90L171.00 273.90" stroke="#222" stroke-width="0.9"/>
<path d="M169.20 268.60L171.00 268.60" stroke="#222" stroke-width="0.9"/>
<path d="M169.20 265.95L171.00 265.95" stroke="#222" stroke-width="0.9"/>
<path d="M169.20 263.30L171.00 263.30" stroke="#222" stroke-width="0.9"/>
<path d="M169.20 260.65L171.00 260.65" stroke="#222" stroke-width="0.9"/>
<path d="M169.20 255.35L171.00 255.35" stroke="#222" stroke-width="0.9"/>
<path d="M169.20 252.70L171.00 252.70" stroke="#222" stroke-width="0.9"/>
<path d="M169.20 250.05L171.00 250.05" stroke="#222" stroke-width="0.9"/>
<path d="M169.20 247.40L171.00 247.40" stroke="#222" stroke-width="0.9"/>
<path d="M169.20 242.10L171.00 242.10" stroke="#222" stroke-width="0.9"/>
<path d="M169.20 239.45L171.00 239.45" stroke="#222" stroke-width="0.9"/>
<path d="M169.20 236.80L171.00 236.80" stroke="#222" stroke-width="0.9"/>
<path d="M169.20 234.15L171.00 234.15" stroke="#222" stroke-width="0.9"/>
<path d="M170.50 284.50L170.50 286.50" stroke="#333" stroke-width="1"/>
<path d="M177.27 284.00L177.27 285.80" stroke="#222" stroke-width="0.8"/>
<path d="M181.24 284.00L181.24 285.80" stroke="#222" stroke-width="0.8"/>
<path d="M184.05 284.00L184.05 285.80" stroke="#222" stroke-width="0.8"/>
<path d="M186.23 284.00L186.23 285.80" stroke="#222" stroke-width="0.8"/>
<path d="M188.01 284.00L188.01 285.80" stroke="#222" stroke-width="0.8"/>
<path d="M189.51 284.00L189.51 285.80" stroke="#222" stroke-width="0.8"/>
<path d="M190.82 284.00L190.82 285.80" stroke="#222" stroke-width="0.8"/>
<path d="M191.97 284.00L191.97 285.80" stroke="#222" stroke-width="0.8"/>
<path d="M193.00 284.50L193.00 286.50" stroke="#333" stroke-width="1"/>
<path d="M199.77 284.00L199.77 285.80" stroke="#222" stroke-width="0.8"/>
<path d="M203.74 284.00L203.74 285.80" stroke="#222" stroke-width="0.8"/>
<path d="M206.55 284.00L206.55 285.80" stroke="#222" stroke-width="0.8"/>
<path d="M208.73 284.00L208.73 285.80" stroke="#222" stroke-width="0.8"/>
<path d="M210.51 284.00L210.51 285.80" stroke="#222" stroke-width="0.8"/>
<path d="M212.01 284.00L212.01 285.80" stroke="#222" stroke-width="0.8"/>
<path d="M213.32 284.00L213.32 285.80" stroke="#222" stroke-width="0.8"/>
<path d="M214.47 284.00L214.47 285.80" stroke="#222" stroke-width="0.8"/>
<path d="M215.50 284.50L215.50 286.50" stroke="#333" stroke-width="1"/>
<path d="M222.27 284.00L222.27 285.80" stroke="#222" stroke-width="0.8"/>
<path d="M226.24 284.00L226.24 285.80" stroke="#222" stroke-width="0.8"/>
<path d="M229.05 284.00L229.05 285.80" stroke="#222" stroke-width="0.8"/>
<path d="M231.23 284.00L231.23 285.80" stroke="#222" stroke-width="0.8"/>
<path d="M233.01 284.00L233.01 285.80" stroke="#222" stroke-width="0.8"/>
<path d="M234.51 284.00L234.51 285.80" stroke="#222" stroke-width="0.8"/>
<path d="M235.82 284.00L235.82 285.80" stroke="#222" stroke-width="0.8"/>
<path d="M236.97 284.00L236.97 285.80" stroke="#222" stroke-width="0.8"/>
<path d="M238.00 284.50L238.00 286.50" stroke="#333" stroke-width="1"/>
<path d="M244.77 284.00L244.77 285.80" stroke="#222" stroke-width="0.8"/>
<path d="M248.74 284.00L248.74 285.80" stroke="#222" stroke-width="0.8"/>
<path d="M251.55 284.00L251.55 285.80" stroke="#222" stroke-width="0.8"/>
<path d="M253.73 284.00L253.73 285.80" stroke="#222" stroke-width="0.8"/>
<path d="M336.0 69.5L336.0 69.3L340.0 68.6L344.0 68.9L348.0 68.0L350.4 63.7L352.0 55.6L353.7 44.2L355.3 36.1L356.4 31.2L357.7 26.4L359.0 28.0L360.2 31.2L361.3 39.4L362.6 43.4L364.2 42.6L365.8 49.1L367.5 55.6L369.1 58.0L370.7 62.0L373.1 64.5L377.2 66.1L382.1 67.3L386.1 65.6L388.6 67.8L391.0 68.6L391.0 69.5Z" fill="#c6c6c6"/>
<path d="M329.5 69.2L336.0 69.2L340.0 68.6L344.0 68.9L348.0 68.0L350.4 63.7L352.0 55.6L353.7 44.2L355.3 36.1L356.4 31.2L357.7 26.4L359.0 28.0L360.2 31.2L361.3 39.4L362.6 43.4L364.2 42.6L365.8 49.1L367.5 55.6L369.1 58.0L370.7 62.0L373.1 64.5L377.2 66.1L382.1 67.3L386.1 65.6L388.6 67.8L391.0 68.6L413.5 69.2" fill="none" stroke="#000" stroke-width="1.0" stroke-linejoin="round"/>
<rect x="329.50" y="10.50" width="84.00" height="59.00" stroke="#4a4a4a" fill="none" stroke-width="1"/>
<path d="M329.50 10.50L329.50 69.50" stroke="#5a5a5a" stroke-width="1"/>
<path d="M329.50 69.50L413.50 69.50" stroke="#5a5a5a" stroke-width="1"/>
<path d="M327.30 69.50L329.50 69.50" stroke="#333" stroke-width="1"/>
<path d="M327.30 56.25L329.50 56.25" stroke="#333" stroke-width="1"/>
<path d="M327.30 43.00L329.50 43.00" stroke="#333" stroke-width="1"/>
<path d="M327.30 29.75L329.50 29.75" stroke="#333" stroke-width="1"/>
<path d="M327.30 16.50L329.50 16.50" stroke="#333" stroke-width="1"/>
<path d="M328.20 66.85L330.00 66.85" stroke="#222" stroke-width="0.9"/>
<path d="M328.20 64.20L330.00 64.20" stroke="#222" stroke-width="0.9"/>
<path d="M328.20 61.55L330.00 61.55" stroke="#222" stroke-width="0.9"/>
<path d="M328.20 58.90L330.00 58.90" stroke="#222" stroke-width="0.9"/>
<path d="M328.20 53.60L330.00 53.60" stroke="#222" stroke-width="0.9"/>
<path d="M328.20 50.95L330.00 50.95" stroke="#222" stroke-width="0.9"/>
<path d="M328.20 48.30L330.00 48.30" stroke="#222" stroke-width="0.9"/>
<path d="M328.20 45.65L330.00 45.65" stroke="#222" stroke-width="0.9"/>
<path d="M328.20 40.35L330.00 40.35" stroke="#222" stroke-width="0.9"/>
<path d="M328.20 37.70L330.00 37.70" stroke="#222" stroke-width="0.9"/>
<path d="M328.20 35.05L330.00 35.05" stroke="#222" stroke-width="0.9"/>
<path d="M328.20 32.40L330.00 32.40" stroke="#222" stroke-width="0.9"/>
<path d="M328.20 27.10L330.00 27.10" stroke="#222" stroke-width="0.9"/>
<path d="M328.20 24.45L330.00 24.45" stroke="#222" stroke-width="0.9"/>
<path d="M328.20 21.80L330.00 21.80" stroke="#222" stroke-width="0.9"/>
<path d="M328.20 19.15L330.00 19.15" stroke="#222" stroke-width="0.9"/>
<path d="M329.50 69.50L329.50 71.50" stroke="#333" stroke-width="1"/>
<path d="M336.27 69.00L336.27 70.80" stroke="#222" stroke-width="0.8"/>
<path d="M340.24 69.00L340.24 70.80" stroke="#222" stroke-width="0.8"/>
<path d="M343.05 69.00L343.05 70.80" stroke="#222" stroke-width="0.8"/>
<path d="M345.23 69.00L345.23 70.80" stroke="#222" stroke-width="0.8"/>
<path d="M347.01 69.00L347.01 70.80" stroke="#222" stroke-width="0.8"/>
<path d="M348.51 69.00L348.51 70.80" stroke="#222" stroke-width="0.8"/>
<path d="M349.82 69.00L349.82 70.80" stroke="#222" stroke-width="0.8"/>
<path d="M350.97 69.00L350.97 70.80" stroke="#222" stroke-width="0.8"/>
<path d="M352.00 69.50L352.00 71.50" stroke="#333" stroke-width="1"/>
<path d="M358.77 69.00L358.77 70.80" stroke="#222" stroke-width="0.8"/>
<path d="M362.74 69.00L362.74 70.80" stroke="#222" stroke-width="0.8"/>
<path d="M365.55 69.00L365.55 70.80" stroke="#222" stroke-width="0.8"/>
<path d="M367.73 69.00L367.73 70.80" stroke="#222" stroke-width="0.8"/>
<path d="M369.51 69.00L369.51 70.80" stroke="#222" stroke-width="0.8"/>
<path d="M371.01 69.00L371.01 70.80" stroke="#222" stroke-width="0.8"/>
<path d="M372.32 69.00L372.32 70.80" stroke="#222" stroke-width="0.8"/>
<path d="M373.47 69.00L373.47 70.80" stroke="#222" stroke-width="0.8"/>
<path d="M374.50 69.50L374.50 71.50" stroke="#333" stroke-width="1"/>
<path d="M381.27 69.00L381.27 70.80" stroke="#222" stroke-width="0.8"/>
<path d="M385.24 69.00L385.24 70.80" stroke="#222" stroke-width="0.8"/>
<path d="M388.05 69.00L388.05 70.80" stroke="#222" stroke-width="0.8"/>
<path d="M390.23 69.00L390.23 70.80" stroke="#222" stroke-width="0.8"/>
<path d="M392.01 69.00L392.01 70.80" stroke="#222" stroke-width="0.8"/>
<path d="M393.51 69.00L393.51 70.80" stroke="#222" stroke-width="0.8"/>
<path d="M394.82 69.00L394.82 70.80" stroke="#222" stroke-width="0.8"/>
<path d="M395.97 69.00L395.97 70.80" stroke="#222" stroke-width="0.8"/>
<path d="M397.00 69.50L397.00 71.50" stroke="#333" stroke-width="1"/>
<path d="M403.77 69.00L403.77 70.80" stroke="#222" stroke-width="0.8"/>
<path d="M407.74 69.00L407.74 70.80" stroke="#222" stroke-width="0.8"/>
<path d="M410.55 69.00L410.55 70.80" stroke="#222" stroke-width="0.8"/>
<path d="M412.73 69.00L412.73 70.80" stroke="#222" stroke-width="0.8"/>
<path d="M455.0 69.5L455.0 68.6L460.3 68.2L462.7 65.3L465.2 61.3L467.6 55.6L469.2 44.2L470.5 36.9L471.7 35.3L472.8 39.4L474.1 32.9L475.2 28.0L476.0 32.9L477.3 43.4L478.6 51.5L480.3 49.1L481.9 53.1L483.5 60.5L486.3 56.9L488.4 61.3L492.0 58.0L493.9 63.7L496.0 67.8L498.0 68.6L498.0 69.5Z" fill="#c6c6c6"/>
<path d="M435.5 69.2L455.0 68.6L460.3 68.2L462.7 65.3L465.2 61.3L467.6 55.6L469.2 44.2L470.5 36.9L471.7 35.3L472.8 39.4L474.1 32.9L475.2 28.0L476.0 32.9L477.3 43.4L478.6 51.5L480.3 49.1L481.9 53.1L483.5 60.5L486.3 56.9L488.4 61.3L492.0 58.0L493.9 63.7L496.0 67.8L498.0 68.6L518.5 69.2" fill="none" stroke="#000" stroke-width="1.0" stroke-linejoin="round"/>
<rect x="435.50" y="10.50" width="83.00" height="59.00" stroke="#4a4a4a" fill="none" stroke-width="1"/>
<path d="M435.50 10.50L435.50 69.50" stroke="#5a5a5a" stroke-width="1"/>
<path d="M435.50 69.50L518.50 69.50" stroke="#5a5a5a" stroke-width="1"/>
<path d="M433.30 69.50L435.50 69.50" stroke="#333" stroke-width="1"/>
<path d="M433.30 56.25L435.50 56.25" stroke="#333" stroke-width="1"/>
<path d="M433.30 43.00L435.50 43.00" stroke="#333" stroke-width="1"/>
<path d="M433.30 29.75L435.50 29.75" stroke="#333" stroke-width="1"/>
<path d="M433.30 16.50L435.50 16.50" stroke="#333" stroke-width="1"/>
<path d="M434.20 66.85L436.00 66.85" stroke="#222" stroke-width="0.9"/>
<path d="M434.20 64.20L436.00 64.20" stroke="#222" stroke-width="0.9"/>
<path d="M434.20 61.55L436.00 61.55" stroke="#222" stroke-width="0.9"/>
<path d="M434.20 58.90L436.00 58.90" stroke="#222" stroke-width="0.9"/>
<path d="M434.20 53.60L436.00 53.60" stroke="#222" stroke-width="0.9"/>
<path d="M434.20 50.95L436.00 50.95" stroke="#222" stroke-width="0.9"/>
<path d="M434.20 48.30L436.00 48.30" stroke="#222" stroke-width="0.9"/>
<path d="M434.20 45.65L436.00 45.65" stroke="#222" stroke-width="0.9"/>
<path d="M434.20 40.35L436.00 40.35" stroke="#222" stroke-width="0.9"/>
<path d="M434.20 37.70L436.00 37.70" stroke="#222" stroke-width="0.9"/>
<path d="M434.20 35.05L436.00 35.05" stroke="#222" stroke-width="0.9"/>
<path d="M434.20 32.40L436.00 32.40" stroke="#222" stroke-width="0.9"/>
<path d="M434.20 27.10L436.00 27.10" stroke="#222" stroke-width="0.9"/>
<path d="M434.20 24.45L436.00 24.45" stroke="#222" stroke-width="0.9"/>
<path d="M434.20 21.80L436.00 21.80" stroke="#222" stroke-width="0.9"/>
<path d="M434.20 19.15L436.00 19.15" stroke="#222" stroke-width="0.9"/>
<path d="M435.50 69.50L435.50 71.50" stroke="#333" stroke-width="1"/>
<path d="M442.27 69.00L442.27 70.80" stroke="#222" stroke-width="0.8"/>
<path d="M446.24 69.00L446.24 70.80" stroke="#222" stroke-width="0.8"/>
<path d="M449.05 69.00L449.05 70.80" stroke="#222" stroke-width="0.8"/>
<path d="M451.23 69.00L451.23 70.80" stroke="#222" stroke-width="0.8"/>
<path d="M453.01 69.00L453.01 70.80" stroke="#222" stroke-width="0.8"/>
<path d="M454.51 69.00L454.51 70.80" stroke="#222" stroke-width="0.8"/>
<path d="M455.82 69.00L455.82 70.80" stroke="#222" stroke-width="0.8"/>
<path d="M456.97 69.00L456.97 70.80" stroke="#222" stroke-width="0.8"/>
<path d="M458.00 69.50L458.00 71.50" stroke="#333" stroke-width="1"/>
<path d="M464.77 69.00L464.77 70.80" stroke="#222" stroke-width="0.8"/>
<path d="M468.74 69.00L468.74 70.80" stroke="#222" stroke-width="0.8"/>
<path d="M471.55 69.00L471.55 70.80" stroke="#222" stroke-width="0.8"/>
<path d="M473.73 69.00L473.73 70.80" stroke="#222" stroke-width="0.8"/>
<path d="M475.51 69.00L475.51 70.80" stroke="#222" stroke-width="0.8"/>
<path d="M477.01 69.00L477.01 70.80" stroke="#222" stroke-width="0.8"/>
<path d="M478.32 69.00L478.32 70.80" stroke="#222" stroke-width="0.8"/>
<path d="M479.47 69.00L479.47 70.80" stroke="#222" stroke-width="0.8"/>
<path d="M480.50 69.50L480.50 71.50" stroke="#333" stroke-width="1"/>
<path d="M487.27 69.00L487.27 70.80" stroke="#222" stroke-width="0.8"/>
<path d="M491.24 69.00L491.24 70.80" stroke="#222" stroke-width="0.8"/>
<path d="M494.05 69.00L494.05 70.80" stroke="#222" stroke-width="0.8"/>
<path d="M496.23 69.00L496.23 70.80" stroke="#222" stroke-width="0.8"/>
<path d="M498.01 69.00L498.01 70.80" stroke="#222" stroke-width="0.8"/>
<path d="M499.51 69.00L499.51 70.80" stroke="#222" stroke-width="0.8"/>
<path d="M500.82 69.00L500.82 70.80" stroke="#222" stroke-width="0.8"/>
<path d="M501.97 69.00L501.97 70.80" stroke="#222" stroke-width="0.8"/>
<path d="M503.00 69.50L503.00 71.50" stroke="#333" stroke-width="1"/>
<path d="M509.77 69.00L509.77 70.80" stroke="#222" stroke-width="0.8"/>
<path d="M513.74 69.00L513.74 70.80" stroke="#222" stroke-width="0.8"/>
<path d="M516.55 69.00L516.55 70.80" stroke="#222" stroke-width="0.8"/>
<path d="M381.7 138.5L381.7 138.3L383.9 137.3L385.4 134.7L386.5 131.8L387.5 127.3L388.4 123.6L389.1 122.4L389.7 124.4L390.2 128.1L391.0 130.3L391.9 133.6L393.2 136.2L395.0 137.9L396.5 138.3L396.5 138.5Z" fill="#c6c6c6"/>
<path d="M329.5 138.2L381.7 138.2L383.9 137.3L385.4 134.7L386.5 131.8L387.5 127.3L388.4 123.6L389.1 122.4L389.7 124.4L390.2 128.1L391.0 130.3L391.9 133.6L393.2 136.2L395.0 137.9L396.5 138.2L413.5 138.2" fill="none" stroke="#000" stroke-width="1.0" stroke-linejoin="round"/>
<rect x="329.50" y="80.50" width="84.00" height="58.00" stroke="#4a4a4a" fill="none" stroke-width="1"/>
<path d="M329.50 80.50L329.50 138.50" stroke="#5a5a5a" stroke-width="1"/>
<path d="M329.50 138.50L413.50 138.50" stroke="#5a5a5a" stroke-width="1"/>
<path d="M327.30 138.50L329.50 138.50" stroke="#333" stroke-width="1"/>
<path d="M327.30 125.25L329.50 125.25" stroke="#333" stroke-width="1"/>
<path d="M327.30 112.00L329.50 112.00" stroke="#333" stroke-width="1"/>
<path d="M327.30 98.75L329.50 98.75" stroke="#333" stroke-width="1"/>
<path d="M327.30 85.50L329.50 85.50" stroke="#333" stroke-width="1"/>
<path d="M328.20 135.85L330.00 135.85" stroke="#222" stroke-width="0.9"/>
<path d="M328.20 133.20L330.00 133.20" stroke="#222" stroke-width="0.9"/>
<path d="M328.20 130.55L330.00 130.55" stroke="#222" stroke-width="0.9"/>
<path d="M328.20 127.90L330.00 127.90" stroke="#222" stroke-width="0.9"/>
<path d="M328.20 122.60L330.00 122.60" stroke="#222" stroke-width="0.9"/>
<path d="M328.20 119.95L330.00 119.95" stroke="#222" stroke-width="0.9"/>
<path d="M328.20 117.30L330.00 117.30" stroke="#222" stroke-width="0.9"/>
<path d="M328.20 114.65L330.00 114.65" stroke="#222" stroke-width="0.9"/>
<path d="M328.20 109.35L330.00 109.35" stroke="#222" stroke-width="0.9"/>
<path d="M328.20 106.70L330.00 106.70" stroke="#222" stroke-width="0.9"/>
<path d="M328.20 104.05L330.00 104.05" stroke="#222" stroke-width="0.9"/>
<path d="M328.20 101.40L330.00 101.40" stroke="#222" stroke-width="0.9"/>
<path d="M328.20 96.10L330.00 96.10" stroke="#222" stroke-width="0.9"/>
<path d="M328.20 93.45L330.00 93.45" stroke="#222" stroke-width="0.9"/>
<path d="M328.20 90.80L330.00 90.80" stroke="#222" stroke-width="0.9"/>
<path d="M328.20 88.15L330.00 88.15" stroke="#222" stroke-width="0.9"/>
<path d="M329.50 138.50L329.50 140.50" stroke="#333" stroke-width="1"/>
<path d="M336.27 138.00L336.27 139.80" stroke="#222" stroke-width="0.8"/>
<path d="M340.24 138.00L340.24 139.80" stroke="#222" stroke-width="0.8"/>
<path d="M343.05 138.00L343.05 139.80" stroke="#222" stroke-width="0.8"/>
<path d="M345.23 138.00L345.23 139.80" stroke="#222" stroke-width="0.8"/>
<path d="M347.01 138.00L347.01 139.80" stroke="#222" stroke-width="0.8"/>
<path d="M348.51 138.00L348.51 139.80" stroke="#222" stroke-width="0.8"/>
<path d="M349.82 138.00L349.82 139.80" stroke="#222" stroke-width="0.8"/>
<path d="M350.97 138.00L350.97 139.80" stroke="#222" stroke-width="0.8"/>
<path d="M352.00 138.50L352.00 140.50" stroke="#333" stroke-width="1"/>
<path d="M358.77 138.00L358.77 139.80" stroke="#222" stroke-width="0.8"/>
<path d="M362.74 138.00L362.74 139.80" stroke="#222" stroke-width="0.8"/>
<path d="M365.55 138.00L365.55 139.80" stroke="#222" stroke-width="0.8"/>
<path d="M367.73 138.00L367.73 139.80" stroke="#222" stroke-width="0.8"/>
<path d="M369.51 138.00L369.51 139.80" stroke="#222" stroke-width="0.8"/>
<path d="M371.01 138.00L371.01 139.80" stroke="#222" stroke-width="0.8"/>
<path d="M372.32 138.00L372.32 139.80" stroke="#222" stroke-width="0.8"/>
<path d="M373.47 138.00L373.47 139.80" stroke="#222" stroke-width="0.8"/>
<path d="M374.50 138.50L374.50 140.50" stroke="#333" stroke-width="1"/>
<path d="M381.27 138.00L381.27 139.80" stroke="#222" stroke-width="0.8"/>
<path d="M385.24 138.00L385.24 139.80" stroke="#222" stroke-width="0.8"/>
<path d="M388.05 138.00L388.05 139.80" stroke="#222" stroke-width="0.8"/>
<path d="M390.23 138.00L390.23 139.80" stroke="#222" stroke-width="0.8"/>
<path d="M392.01 138.00L392.01 139.80" stroke="#222" stroke-width="0.8"/>
<path d="M393.51 138.00L393.51 139.80" stroke="#222" stroke-width="0.8"/>
<path d="M394.82 138.00L394.82 139.80" stroke="#222" stroke-width="0.8"/>
<path d="M395.97 138.00L395.97 139.80" stroke="#222" stroke-width="0.8"/>
<path d="M397.00 138.50L397.00 140.50" stroke="#333" stroke-width="1"/>
<path d="M403.77 138.00L403.77 139.80" stroke="#222" stroke-width="0.8"/>
<path d="M407.74 138.00L407.74 139.80" stroke="#222" stroke-width="0.8"/>
<path d="M410.55 138.00L410.55 139.80" stroke="#222" stroke-width="0.8"/>
<path d="M412.73 138.00L412.73 139.80" stroke="#222" stroke-width="0.8"/>
<path d="M483.5 138.5L483.5 138.3L487.5 138.3L489.0 137.7L490.2 136.4L491.3 131.8L492.0 129.2L493.2 114.5L494.2 99.9L495.1 87.0L495.8 80.6L496.7 85.3L497.6 98.0L498.7 114.5L499.9 127.3L500.5 131.8L501.1 134.7L501.9 137.0L503.1 138.3L503.1 138.5Z" fill="#c6c6c6"/>
<path d="M435.5 138.2L483.5 138.2L487.5 138.2L489.0 137.7L490.2 136.4L491.3 131.8L492.0 129.2L493.2 114.5L494.2 99.9L495.1 87.0L495.8 80.6L496.7 85.3L497.6 98.0L498.7 114.5L499.9 127.3L500.5 131.8L501.1 134.7L501.9 137.0L503.1 138.2L518.5 138.2" fill="none" stroke="#000" stroke-width="1.0" stroke-linejoin="round"/>
<rect x="435.50" y="80.50" width="83.00" height="58.00" stroke="#4a4a4a" fill="none" stroke-width="1"/>
<path d="M435.50 80.50L435.50 138.50" stroke="#5a5a5a" stroke-width="1"/>
<path d="M435.50 138.50L518.50 138.50" stroke="#5a5a5a" stroke-width="1"/>
<path d="M433.30 138.50L435.50 138.50" stroke="#333" stroke-width="1"/>
<path d="M433.30 125.25L435.50 125.25" stroke="#333" stroke-width="1"/>
<path d="M433.30 112.00L435.50 112.00" stroke="#333" stroke-width="1"/>
<path d="M433.30 98.75L435.50 98.75" stroke="#333" stroke-width="1"/>
<path d="M433.30 85.50L435.50 85.50" stroke="#333" stroke-width="1"/>
<path d="M434.20 135.85L436.00 135.85" stroke="#222" stroke-width="0.9"/>
<path d="M434.20 133.20L436.00 133.20" stroke="#222" stroke-width="0.9"/>
<path d="M434.20 130.55L436.00 130.55" stroke="#222" stroke-width="0.9"/>
<path d="M434.20 127.90L436.00 127.90" stroke="#222" stroke-width="0.9"/>
<path d="M434.20 122.60L436.00 122.60" stroke="#222" stroke-width="0.9"/>
<path d="M434.20 119.95L436.00 119.95" stroke="#222" stroke-width="0.9"/>
<path d="M434.20 117.30L436.00 117.30" stroke="#222" stroke-width="0.9"/>
<path d="M434.20 114.65L436.00 114.65" stroke="#222" stroke-width="0.9"/>
<path d="M434.20 109.35L436.00 109.35" stroke="#222" stroke-width="0.9"/>
<path d="M434.20 106.70L436.00 106.70" stroke="#222" stroke-width="0.9"/>
<path d="M434.20 104.05L436.00 104.05" stroke="#222" stroke-width="0.9"/>
<path d="M434.20 101.40L436.00 101.40" stroke="#222" stroke-width="0.9"/>
<path d="M434.20 96.10L436.00 96.10" stroke="#222" stroke-width="0.9"/>
<path d="M434.20 93.45L436.00 93.45" stroke="#222" stroke-width="0.9"/>
<path d="M434.20 90.80L436.00 90.80" stroke="#222" stroke-width="0.9"/>
<path d="M434.20 88.15L436.00 88.15" stroke="#222" stroke-width="0.9"/>
<path d="M435.50 138.50L435.50 140.50" stroke="#333" stroke-width="1"/>
<path d="M442.27 138.00L442.27 139.80" stroke="#222" stroke-width="0.8"/>
<path d="M446.24 138.00L446.24 139.80" stroke="#222" stroke-width="0.8"/>
<path d="M449.05 138.00L449.05 139.80" stroke="#222" stroke-width="0.8"/>
<path d="M451.23 138.00L451.23 139.80" stroke="#222" stroke-width="0.8"/>
<path d="M453.01 138.00L453.01 139.80" stroke="#222" stroke-width="0.8"/>
<path d="M454.51 138.00L454.51 139.80" stroke="#222" stroke-width="0.8"/>
<path d="M455.82 138.00L455.82 139.80" stroke="#222" stroke-width="0.8"/>
<path d="M456.97 138.00L456.97 139.80" stroke="#222" stroke-width="0.8"/>
<path d="M458.00 138.50L458.00 140.50" stroke="#333" stroke-width="1"/>
<path d="M464.77 138.00L464.77 139.80" stroke="#222" stroke-width="0.8"/>
<path d="M468.74 138.00L468.74 139.80" stroke="#222" stroke-width="0.8"/>
<path d="M471.55 138.00L471.55 139.80" stroke="#222" stroke-width="0.8"/>
<path d="M473.73 138.00L473.73 139.80" stroke="#222" stroke-width="0.8"/>
<path d="M475.51 138.00L475.51 139.80" stroke="#222" stroke-width="0.8"/>
<path d="M477.01 138.00L477.01 139.80" stroke="#222" stroke-width="0.8"/>
<path d="M478.32 138.00L478.32 139.80" stroke="#222" stroke-width="0.8"/>
<path d="M479.47 138.00L479.47 139.80" stroke="#222" stroke-width="0.8"/>
<path d="M480.50 138.50L480.50 140.50" stroke="#333" stroke-width="1"/>
<path d="M487.27 138.00L487.27 139.80" stroke="#222" stroke-width="0.8"/>
<path d="M491.24 138.00L491.24 139.80" stroke="#222" stroke-width="0.8"/>
<path d="M494.05 138.00L494.05 139.80" stroke="#222" stroke-width="0.8"/>
<path d="M496.23 138.00L496.23 139.80" stroke="#222" stroke-width="0.8"/>
<path d="M498.01 138.00L498.01 139.80" stroke="#222" stroke-width="0.8"/>
<path d="M499.51 138.00L499.51 139.80" stroke="#222" stroke-width="0.8"/>
<path d="M500.82 138.00L500.82 139.80" stroke="#222" stroke-width="0.8"/>
<path d="M501.97 138.00L501.97 139.80" stroke="#222" stroke-width="0.8"/>
<path d="M503.00 138.50L503.00 140.50" stroke="#333" stroke-width="1"/>
<path d="M509.77 138.00L509.77 139.80" stroke="#222" stroke-width="0.8"/>
<path d="M513.74 138.00L513.74 139.80" stroke="#222" stroke-width="0.8"/>
<path d="M516.55 138.00L516.55 139.80" stroke="#222" stroke-width="0.8"/>
<rect x="299.50" y="166.50" width="216.00" height="163.00" stroke="#555" fill="none" stroke-width="1"/>
<path d="M299.50 176.50L385.50 176.50" stroke="#555" stroke-width="1"/>
<path d="M385.50 166.50L385.50 329.50" stroke="#555" stroke-width="1"/>
<path d="M342.50 176.50L342.50 329.50" stroke="#555" stroke-width="1"/>
<path d="M299.50 203.50L515.50 203.50" stroke="#555" stroke-width="1"/>
<path d="M299.50 266.50L515.50 266.50" stroke="#555" stroke-width="1"/>
<path d="M342.50 250.50L385.50 250.50" stroke="#555" stroke-width="1"/>
<path d="M342.50 314.50L385.50 314.50" stroke="#555" stroke-width="1"/>
<rect x="385.50" y="206.30" width="125.53" height="10.30" stroke="#444" fill="#c8c8c8" stroke-width="1"/>
<rect x="385.50" y="222.00" width="124.41" height="10.30" stroke="#444" fill="#c8c8c8" stroke-width="1"/>
<rect x="385.50" y="237.70" width="15.27" height="10.30" stroke="#444" fill="#c8c8c8" stroke-width="1"/>
<rect x="385.50" y="253.40" width="12.67" height="10.30" stroke="#444" fill="#c8c8c8" stroke-width="1"/>
<rect x="385.50" y="269.10" width="16.02" height="10.30" stroke="#444" fill="#c8c8c8" stroke-width="1"/>
<rect x="385.50" y="284.80" width="27.19" height="10.30" stroke="#444" fill="#c8c8c8" stroke-width="1"/>
<rect x="385.50" y="300.50" width="35.02" height="10.30" stroke="#444" fill="#c8c8c8" stroke-width="1"/>
<rect x="385.50" y="316.20" width="21.60" height="10.30" stroke="#444" fill="#c8c8c8" stroke-width="1"/>
<path d="M385.50 329.50L515.88 329.50" stroke="#4a4a4a" stroke-width="1"/>
<path d="M385.50 329.50L385.50 331.80" stroke="#4a4a4a" stroke-width="1"/>
<path d="M404.12 329.50L404.12 331.80" stroke="#4a4a4a" stroke-width="1"/>
<path d="M422.75 329.50L422.75 331.80" stroke="#4a4a4a" stroke-width="1"/>
<path d="M441.38 329.50L441.38 331.80" stroke="#4a4a4a" stroke-width="1"/>
<path d="M460.00 329.50L460.00 331.80" stroke="#4a4a4a" stroke-width="1"/>
<path d="M478.62 329.50L478.62 331.80" stroke="#4a4a4a" stroke-width="1"/>
<path d="M497.25 329.50L497.25 331.80" stroke="#4a4a4a" stroke-width="1"/>
<path d="M515.88 329.50L515.88 331.80" stroke="#4a4a4a" stroke-width="1"/>
</g>
<g filter="url(#tf)">
<text x="0.40" y="9.00" font-size="11.6" font-weight="bold" fill="#000">A</text>
<text x="110.30" y="15.00" font-size="5.6" text-anchor="middle" font-weight="bold">D7T1</text>
<text x="216.00" y="15.00" font-size="5.6" text-anchor="middle" font-weight="bold">D7T4</text>
<text x="9.00" y="24.00" font-size="5.6">T cell clone</text>
<text x="9.00" y="30.00" font-size="5.6">only</text>
<text x="9.00" y="94.00" font-size="5.6">T cell clone</text>
<text x="9.00" y="100.00" font-size="5.6">+ Monocytes</text>
<text x="9.00" y="105.40" font-size="5.6">+ L33 peptide</text>
<text x="9.00" y="163.00" font-size="5.6">T cell clone</text>
<text x="9.00" y="168.60" font-size="5.6">+ Monocytes</text>
<text x="9.00" y="174.40" font-size="5.6">+ Lol P1 peptide</text>
<text x="9.00" y="233.00" font-size="5.6">T cell clone</text>
<text x="9.00" y="238.00" font-size="5.6">+ Monocytes</text>
<text x="9.00" y="244.00" font-size="5.6">+ P33 peptide</text>
<text x="61.00" y="77.80" font-size="5.6" text-anchor="end">0</text>
<text x="61.00" y="64.55" font-size="5.6" text-anchor="end">100</text>
<text x="61.00" y="51.30" font-size="5.6" text-anchor="end">200</text>
<text x="61.00" y="38.05" font-size="5.6" text-anchor="end">300</text>
<text x="61.00" y="24.80" font-size="5.6" text-anchor="end">400</text>
<text x="64.60" y="84.30" font-size="5.4" text-anchor="middle">10<tspan font-size="3.6" dy="-2.1">0</tspan></text>
<text x="87.10" y="84.30" font-size="5.4" text-anchor="middle">10<tspan font-size="3.6" dy="-2.1">1</tspan></text>
<text x="109.60" y="84.30" font-size="5.4" text-anchor="middle">10<tspan font-size="3.6" dy="-2.1">2</tspan></text>
<text x="132.10" y="84.30" font-size="5.4" text-anchor="middle">10<tspan font-size="3.6" dy="-2.1">3</tspan></text>
<text x="167.00" y="77.80" font-size="5.6" text-anchor="end">0</text>
<text x="167.00" y="64.55" font-size="5.6" text-anchor="end">100</text>
<text x="167.00" y="51.30" font-size="5.6" text-anchor="end">200</text>
<text x="167.00" y="38.05" font-size="5.6" text-anchor="end">300</text>
<text x="167.00" y="24.80" font-size="5.6" text-anchor="end">400</text>
<text x="170.60" y="84.30" font-size="5.4" text-anchor="middle">10<tspan font-size="3.6" dy="-2.1">0</tspan></text>
<text x="193.10" y="84.30" font-size="5.4" text-anchor="middle">10<tspan font-size="3.6" dy="-2.1">1</tspan></text>
<text x="215.60" y="84.30" font-size="5.4" text-anchor="middle">10<tspan font-size="3.6" dy="-2.1">2</tspan></text>
<text x="238.10" y="84.30" font-size="5.4" text-anchor="middle">10<tspan font-size="3.6" dy="-2.1">3</tspan></text>
<text x="61.00" y="147.30" font-size="5.6" text-anchor="end">0</text>
<text x="61.00" y="134.05" font-size="5.6" text-anchor="end">100</text>
<text x="61.00" y="120.80" font-size="5.6" text-anchor="end">200</text>
<text x="61.00" y="107.55" font-size="5.6" text-anchor="end">300</text>
<text x="61.00" y="94.30" font-size="5.6" text-anchor="end">400</text>
<text x="64.60" y="153.80" font-size="5.4" text-anchor="middle">10<tspan font-size="3.6" dy="-2.1">0</tspan></text>
<text x="87.10" y="153.80" font-size="5.4" text-anchor="middle">10<tspan font-size="3.6" dy="-2.1">1</tspan></text>
<text x="109.60" y="153.80" font-size="5.4" text-anchor="middle">10<tspan font-size="3.6" dy="-2.1">2</tspan></text>
<text x="132.10" y="153.80" font-size="5.4" text-anchor="middle">10<tspan font-size="3.6" dy="-2.1">3</tspan></text>
<text x="167.00" y="147.30" font-size="5.6" text-anchor="end">0</text>
<text x="167.00" y="134.05" font-size="5.6" text-anchor="end">100</text>
<text x="167.00" y="120.80" font-size="5.6" text-anchor="end">200</text>
<text x="167.00" y="107.55" font-size="5.6" text-anchor="end">300</text>
<text x="167.00" y="94.30" font-size="5.6" text-anchor="end">400</text>
<text x="170.60" y="153.80" font-size="5.4" text-anchor="middle">10<tspan font-size="3.6" dy="-2.1">0</tspan></text>
<text x="193.10" y="153.80" font-size="5.4" text-anchor="middle">10<tspan font-size="3.6" dy="-2.1">1</tspan></text>
<text x="215.60" y="153.80" font-size="5.4" text-anchor="middle">10<tspan font-size="3.6" dy="-2.1">2</tspan></text>
<text x="238.10" y="153.80" font-size="5.4" text-anchor="middle">10<tspan font-size="3.6" dy="-2.1">3</tspan></text>
<text x="61.00" y="216.80" font-size="5.6" text-anchor="end">0</text>
<text x="61.00" y="203.55" font-size="5.6" text-anchor="end">100</text>
<text x="61.00" y="190.30" font-size="5.6" text-anchor="end">200</text>
<text x="61.00" y="177.05" font-size="5.6" text-anchor="end">300</text>
<text x="61.00" y="163.80" font-size="5.6" text-anchor="end">400</text>
<text x="64.60" y="223.30" font-size="5.4" text-anchor="middle">10<tspan font-size="3.6" dy="-2.1">0</tspan></text>
<text x="87.10" y="223.30" font-size="5.4" text-anchor="middle">10<tspan font-size="3.6" dy="-2.1">1</tspan></text>
<text x="109.60" y="223.30" font-size="5.4" text-anchor="middle">10<tspan font-size="3.6" dy="-2.1">2</tspan></text>
<text x="132.10" y="223.30" font-size="5.4" text-anchor="middle">10<tspan font-size="3.6" dy="-2.1">3</tspan></text>
<text x="167.00" y="216.80" font-size="5.6" text-anchor="end">0</text>
<text x="167.00" y="203.55" font-size="5.6" text-anchor="end">100</text>
<text x="167.00" y="190.30" font-size="5.6" text-anchor="end">200</text>
<text x="167.00" y="177.05" font-size="5.6" text-anchor="end">300</text>
<text x="167.00" y="163.80" font-size="5.6" text-anchor="end">400</text>
<text x="170.60" y="223.30" font-size="5.4" text-anchor="middle">10<tspan font-size="3.6" dy="-2.1">0</tspan></text>
<text x="193.10" y="223.30" font-size="5.4" text-anchor="middle">10<tspan font-size="3.6" dy="-2.1">1</tspan></text>
<text x="215.60" y="223.30" font-size="5.4" text-anchor="middle">10<tspan font-size="3.6" dy="-2.1">2</tspan></text>
<text x="238.10" y="223.30" font-size="5.4" text-anchor="middle">10<tspan font-size="3.6" dy="-2.1">3</tspan></text>
<text x="61.00" y="285.80" font-size="5.6" text-anchor="end">0</text>
<text x="61.00" y="272.55" font-size="5.6" text-anchor="end">100</text>
<text x="61.00" y="259.30" font-size="5.6" text-anchor="end">200</text>
<text x="61.00" y="246.05" font-size="5.6" text-anchor="end">300</text>
<text x="61.00" y="232.80" font-size="5.6" text-anchor="end">400</text>
<text x="64.60" y="292.30" font-size="5.4" text-anchor="middle">10<tspan font-size="3.6" dy="-2.1">0</tspan></text>
<text x="87.10" y="292.30" font-size="5.4" text-anchor="middle">10<tspan font-size="3.6" dy="-2.1">1</tspan></text>
<text x="109.60" y="292.30" font-size="5.4" text-anchor="middle">10<tspan font-size="3.6" dy="-2.1">2</tspan></text>
<text x="132.10" y="292.30" font-size="5.4" text-anchor="middle">10<tspan font-size="3.6" dy="-2.1">3</tspan></text>
<text x="110.80" y="298.30" font-size="5.6" text-anchor="middle">CFSE</text>
<text x="167.00" y="285.80" font-size="5.6" text-anchor="end">0</text>
<text x="167.00" y="272.55" font-size="5.6" text-anchor="end">100</text>
<text x="167.00" y="259.30" font-size="5.6" text-anchor="end">200</text>
<text x="167.00" y="246.05" font-size="5.6" text-anchor="end">300</text>
<text x="167.00" y="232.80" font-size="5.6" text-anchor="end">400</text>
<text x="170.60" y="292.30" font-size="5.4" text-anchor="middle">10<tspan font-size="3.6" dy="-2.1">0</tspan></text>
<text x="193.10" y="292.30" font-size="5.4" text-anchor="middle">10<tspan font-size="3.6" dy="-2.1">1</tspan></text>
<text x="215.60" y="292.30" font-size="5.4" text-anchor="middle">10<tspan font-size="3.6" dy="-2.1">2</tspan></text>
<text x="238.10" y="292.30" font-size="5.4" text-anchor="middle">10<tspan font-size="3.6" dy="-2.1">3</tspan></text>
<text x="216.80" y="298.30" font-size="5.6" text-anchor="middle">CFSE</text>
<text x="266.60" y="9.00" font-size="11.4" font-weight="bold" fill="#000">B</text>
<text x="274.40" y="17.00" font-size="5.6">T cell clone</text>
<text x="274.40" y="22.40" font-size="5.6">+ Monocytes</text>
<text x="274.40" y="28.00" font-size="5.6">+ Platelets:</text>
<text x="279.20" y="33.40" font-size="5.6">HPA-1a+</text>
<text x="274.40" y="86.40" font-size="5.6">T cell clone</text>
<text x="274.40" y="91.60" font-size="5.6">+ Monocytes</text>
<text x="274.40" y="97.00" font-size="5.6">+ Platelets:</text>
<text x="279.20" y="102.30" font-size="5.6">HPA-1bb</text>
<text x="326.00" y="70.80" font-size="5.6" text-anchor="end">0</text>
<text x="326.00" y="57.55" font-size="5.6" text-anchor="end">100</text>
<text x="326.00" y="44.30" font-size="5.6" text-anchor="end">200</text>
<text x="326.00" y="31.05" font-size="5.6" text-anchor="end">300</text>
<text x="326.00" y="17.80" font-size="5.6" text-anchor="end">400</text>
<text x="329.60" y="77.30" font-size="5.4" text-anchor="middle">10<tspan font-size="3.6" dy="-2.1">0</tspan></text>
<text x="352.10" y="77.30" font-size="5.4" text-anchor="middle">10<tspan font-size="3.6" dy="-2.1">1</tspan></text>
<text x="374.60" y="77.30" font-size="5.4" text-anchor="middle">10<tspan font-size="3.6" dy="-2.1">2</tspan></text>
<text x="397.10" y="77.30" font-size="5.4" text-anchor="middle">10<tspan font-size="3.6" dy="-2.1">3</tspan></text>
<text x="432.00" y="70.80" font-size="5.6" text-anchor="end">0</text>
<text x="432.00" y="57.55" font-size="5.6" text-anchor="end">100</text>
<text x="432.00" y="44.30" font-size="5.6" text-anchor="end">200</text>
<text x="432.00" y="31.05" font-size="5.6" text-anchor="end">300</text>
<text x="432.00" y="17.80" font-size="5.6" text-anchor="end">400</text>
<text x="435.60" y="77.30" font-size="5.4" text-anchor="middle">10<tspan font-size="3.6" dy="-2.1">0</tspan></text>
<text x="458.10" y="77.30" font-size="5.4" text-anchor="middle">10<tspan font-size="3.6" dy="-2.1">1</tspan></text>
<text x="480.60" y="77.30" font-size="5.4" text-anchor="middle">10<tspan font-size="3.6" dy="-2.1">2</tspan></text>
<text x="503.10" y="77.30" font-size="5.4" text-anchor="middle">10<tspan font-size="3.6" dy="-2.1">3</tspan></text>
<text x="326.00" y="139.80" font-size="5.6" text-anchor="end">0</text>
<text x="326.00" y="126.55" font-size="5.6" text-anchor="end">100</text>
<text x="326.00" y="113.30" font-size="5.6" text-anchor="end">200</text>
<text x="326.00" y="100.05" font-size="5.6" text-anchor="end">300</text>
<text x="326.00" y="86.80" font-size="5.6" text-anchor="end">400</text>
<text x="329.60" y="146.30" font-size="5.4" text-anchor="middle">10<tspan font-size="3.6" dy="-2.1">0</tspan></text>
<text x="352.10" y="146.30" font-size="5.4" text-anchor="middle">10<tspan font-size="3.6" dy="-2.1">1</tspan></text>
<text x="374.60" y="146.30" font-size="5.4" text-anchor="middle">10<tspan font-size="3.6" dy="-2.1">2</tspan></text>
<text x="397.10" y="146.30" font-size="5.4" text-anchor="middle">10<tspan font-size="3.6" dy="-2.1">3</tspan></text>
<text x="375.80" y="152.30" font-size="5.6" text-anchor="middle">CFSE</text>
<text x="432.00" y="139.80" font-size="5.6" text-anchor="end">0</text>
<text x="432.00" y="126.55" font-size="5.6" text-anchor="end">100</text>
<text x="432.00" y="113.30" font-size="5.6" text-anchor="end">200</text>
<text x="432.00" y="100.05" font-size="5.6" text-anchor="end">300</text>
<text x="432.00" y="86.80" font-size="5.6" text-anchor="end">400</text>
<text x="435.60" y="146.30" font-size="5.4" text-anchor="middle">10<tspan font-size="3.6" dy="-2.1">0</tspan></text>
<text x="458.10" y="146.30" font-size="5.4" text-anchor="middle">10<tspan font-size="3.6" dy="-2.1">1</tspan></text>
<text x="480.60" y="146.30" font-size="5.4" text-anchor="middle">10<tspan font-size="3.6" dy="-2.1">2</tspan></text>
<text x="503.10" y="146.30" font-size="5.4" text-anchor="middle">10<tspan font-size="3.6" dy="-2.1">3</tspan></text>
<text x="481.80" y="152.30" font-size="5.6" text-anchor="middle">CFSE</text>
<text x="266.40" y="175.00" font-size="11.4" font-weight="bold" fill="#000">C</text>
<text x="342.50" y="175.00" font-size="5.8" text-anchor="middle">T cell stimulation</text>
<text x="321.20" y="185.60" font-size="5.8" text-anchor="middle">Monocyte</text>
<text x="321.20" y="192.50" font-size="5.8" text-anchor="middle">HLA-DRB3</text>
<text x="321.20" y="199.00" font-size="5.8" text-anchor="middle">status</text>
<text x="364.00" y="192.00" font-size="5.8" text-anchor="middle">Platelets</text>
<text x="450.50" y="187.00" font-size="5.8" text-anchor="middle">Proliferation of clonal T cells</text>
<text x="321.20" y="230.40" font-size="5.8" text-anchor="middle">DRB3*0101</text>
<text x="321.20" y="236.60" font-size="5.8" text-anchor="middle">positive</text>
<text x="321.20" y="294.40" font-size="5.8" text-anchor="middle">DRB3*0101</text>
<text x="321.20" y="301.00" font-size="5.8" text-anchor="middle">negative</text>
<text x="364.00" y="215.00" font-size="5.8" text-anchor="middle">HPA-1aa</text>
<text x="364.00" y="230.30" font-size="5.8" text-anchor="middle">HPA-1ab</text>
<text x="364.00" y="246.00" font-size="5.8" text-anchor="middle">HPA-1bb</text>
<text x="364.00" y="261.30" font-size="5.8" text-anchor="middle">none</text>
<text x="364.00" y="278.00" font-size="5.8" text-anchor="middle">HPA-1aa</text>
<text x="364.00" y="293.00" font-size="5.8" text-anchor="middle">HPA-1ab</text>
<text x="364.00" y="308.30" font-size="5.8" text-anchor="middle">HPA-1bb</text>
<text x="364.00" y="323.70" font-size="5.8" text-anchor="middle">none</text>
<text x="385.50" y="339.00" font-size="5.8" text-anchor="middle">0.0</text>
<text x="404.12" y="339.00" font-size="5.8" text-anchor="middle">0.5</text>
<text x="422.75" y="339.00" font-size="5.8" text-anchor="middle">1.0</text>
<text x="441.38" y="339.00" font-size="5.8" text-anchor="middle">1.5</text>
<text x="460.00" y="339.00" font-size="5.8" text-anchor="middle">2.0</text>
<text x="478.62" y="339.00" font-size="5.8" text-anchor="middle">2.5</text>
<text x="497.25" y="339.00" font-size="5.8" text-anchor="middle">3.0</text>
<text x="515.88" y="339.00" font-size="5.8" text-anchor="middle">3.5</text>
<text x="450.50" y="349.00" font-size="5.8" text-anchor="middle">Proliferation Score (PS)</text>
</g>
</svg>
</body></html>
